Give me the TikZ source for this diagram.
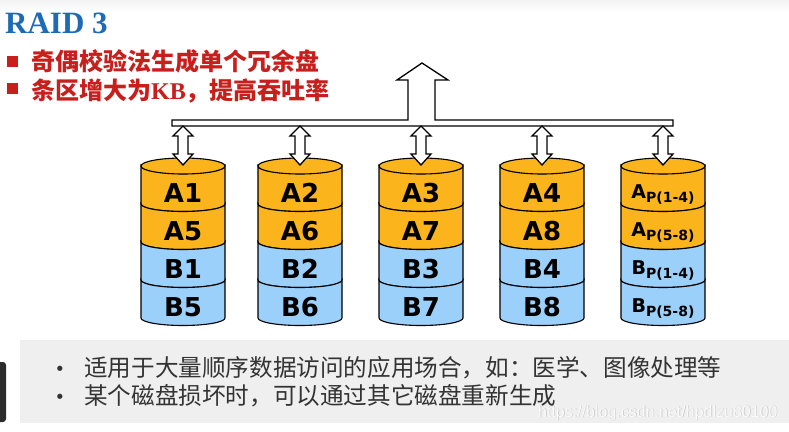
\documentclass[tikz,border=0pt]{standalone}
\usepackage{fontspec}
\setmainfont{DejaVu Sans}
\newfontfamily\cjk{Noto Sans CJK SC}
\newfontfamily\titlefont{Liberation Serif}
\newfontfamily\wmfont{Liberation Sans}
\definecolor{titleblue}{RGB}{31,106,181}
\definecolor{redtxt}{RGB}{200,30,28}
\definecolor{orgc}{RGB}{251,180,27}
\definecolor{bluc}{RGB}{155,208,250}
\definecolor{boxgray}{RGB}{239,239,239}
\definecolor{txtgray}{RGB}{51,51,51}
\definecolor{darkc}{RGB}{43,43,43}
\tikzset{
  diskline/.style={draw=black, line width=1.1pt},
  outl/.style={draw=black, fill=white, line width=1.3pt, line join=miter},
  lab/.style={inner sep=0pt, font=\fontsize{26}{26}\selectfont\bfseries},
  plab/.style={inner sep=0pt},
  redline/.style={anchor=base west, inner sep=0pt, text=redtxt, font=\cjk\bfseries\fontsize{24}{24}\selectfont},
  grayline/.style={anchor=base west, inner sep=0pt, text=txtgray, font=\cjk\fontsize{23.6}{23.6}\selectfont},
}
\newcommand{\rdisk}[6]{%
  \begin{scope}[shift={(#2,0)}]
    \foreach \i/\c in {0/orgc,1/orgc,2/bluc,3/bluc} {
      \pgfmathsetmacro\ya{166+38*\i}
      \pgfmathsetmacro\yb{166+38*(\i+1)}
      \filldraw[fill=\c, diskline] (-42,\ya) -- (-42,\yb)
        arc[start angle=180,end angle=360,x radius=42pt,y radius=7.5pt]
        -- (42,\ya)
        arc[start angle=0,end angle=-180,x radius=42pt,y radius=7.5pt] -- cycle;
    }
    \filldraw[fill=orgc, diskline] (0,166) ellipse[x radius=42pt, y radius=8pt];
    \node[lab] (#1a) at (0,193) {#3};
    \node[lab] (#1b) at (0,231) {#4};
    \node[lab] (#1c) at (0,269) {#5};
    \node[lab] (#1d) at (0,307) {#6};
    \draw[outl] (0,126) -- (10,136) -- (5,136) -- (5,154) -- (10,154) -- (0,165)
      -- (-10,154) -- (-5,154) -- (-5,136) -- (-10,136) -- cycle;
  \end{scope}}
\newcommand{\plabel}[2]{{\fontsize{19}{19}\selectfont\bfseries #1}\raisebox{-4pt}{\fontsize{14}{14}\selectfont\bfseries P(#2)}}
\begin{document}
\begin{tikzpicture}[x=1pt,y=-1pt]
\useasboundingbox (0,0) rectangle (789,431);
\fill[white] (0,0) rectangle (789,431);
\shade[top color=gray!10, bottom color=white] (0,0) rectangle (789,12);

% title
\node[anchor=base west, inner sep=0pt, text=titleblue] (title) at (5,33)
  {\titlefont\bfseries\fontsize{31}{31}\selectfont RAID 3};

% red bullets
\fill[redtxt] (7,55.5) rectangle (18,66.5);
\fill[redtxt] (7,83) rectangle (18,94);
\node[redline] (r1) at (31,70) {奇偶校验法生成单个冗余盘};
\node[redline] (r2) at (31,99) {条区增大为{\titlefont\bfseries KB}，提高吞吐率};

% bus and main arrow
\draw[outl] (172,126) -- (673,126) -- (673,120) -- (435,120) -- (435,80) -- (448,80)
  -- (422,63) -- (397,80) -- (408,80) -- (408,120) -- (172,120) -- cycle;

% disks
\rdisk{d1}{183}{A1}{A5}{B1}{B5}
\rdisk{d2}{300}{A2}{A6}{B2}{B6}
\rdisk{d3}{421}{A3}{A7}{B3}{B7}
\rdisk{d4}{542}{A4}{A8}{B4}{B8}
\begin{scope}[shift={(663,0)}]
  \foreach \i/\c in {0/orgc,1/orgc,2/bluc,3/bluc} {
    \pgfmathsetmacro\ya{166+38*\i}
    \pgfmathsetmacro\yb{166+38*(\i+1)}
    \filldraw[fill=\c, diskline] (-42,\ya) -- (-42,\yb)
      arc[start angle=180,end angle=360,x radius=42pt,y radius=7.5pt]
      -- (42,\ya)
      arc[start angle=0,end angle=-180,x radius=42pt,y radius=7.5pt] -- cycle;
  }
  \filldraw[fill=orgc, diskline] (0,166) ellipse[x radius=42pt, y radius=8pt];
  \node[plab] (d5a) at (0,194) {\plabel{A}{1-4}};
  \node[plab] (d5b) at (0,232) {\plabel{A}{5-8}};
  \node[plab] (d5c) at (0,270) {\plabel{B}{1-4}};
  \node[plab] (d5d) at (0,308) {\plabel{B}{5-8}};
  \draw[outl] (0,126) -- (10,136) -- (5,136) -- (5,154) -- (10,154) -- (0,165)
    -- (-10,154) -- (-5,154) -- (-5,136) -- (-10,136) -- cycle;
\end{scope}

% bottom box
\fill[boxgray] (20,340) rectangle (789,423);
\fill[darkc, rounded corners=3pt] (-6,362) rectangle (6,422);
\node[anchor=base, inner sep=0pt, text=txtgray, font=\fontsize{18}{18}\selectfont] (b1) at (60,375) {•};
\node[anchor=base, inner sep=0pt, text=txtgray, font=\fontsize{18}{18}\selectfont] (b2) at (60,403) {•};
\node[grayline] (g1) at (84,376) {适用于大量顺序数据访问的应用场合，如：医学、图像处理等};
\node[grayline] (g2) at (84,404) {某个磁盘损坏时，可以通过其它磁盘重新生成};

% watermark
\node[anchor=base west, inner sep=0pt, xscale=0.97, text=gray!45, font=\wmfont\fontsize{16.5}{16.5}\selectfont] (wm0) at (538.6,417.6) {https://blog.csdn.net/hpdlzu80100};
\node[anchor=base west, inner sep=0pt, xscale=0.97, text=white!96!gray, font=\wmfont\fontsize{16.5}{16.5}\selectfont] (wm) at (538,417) {https://blog.csdn.net/hpdlzu80100};
\end{tikzpicture}
\end{document}
